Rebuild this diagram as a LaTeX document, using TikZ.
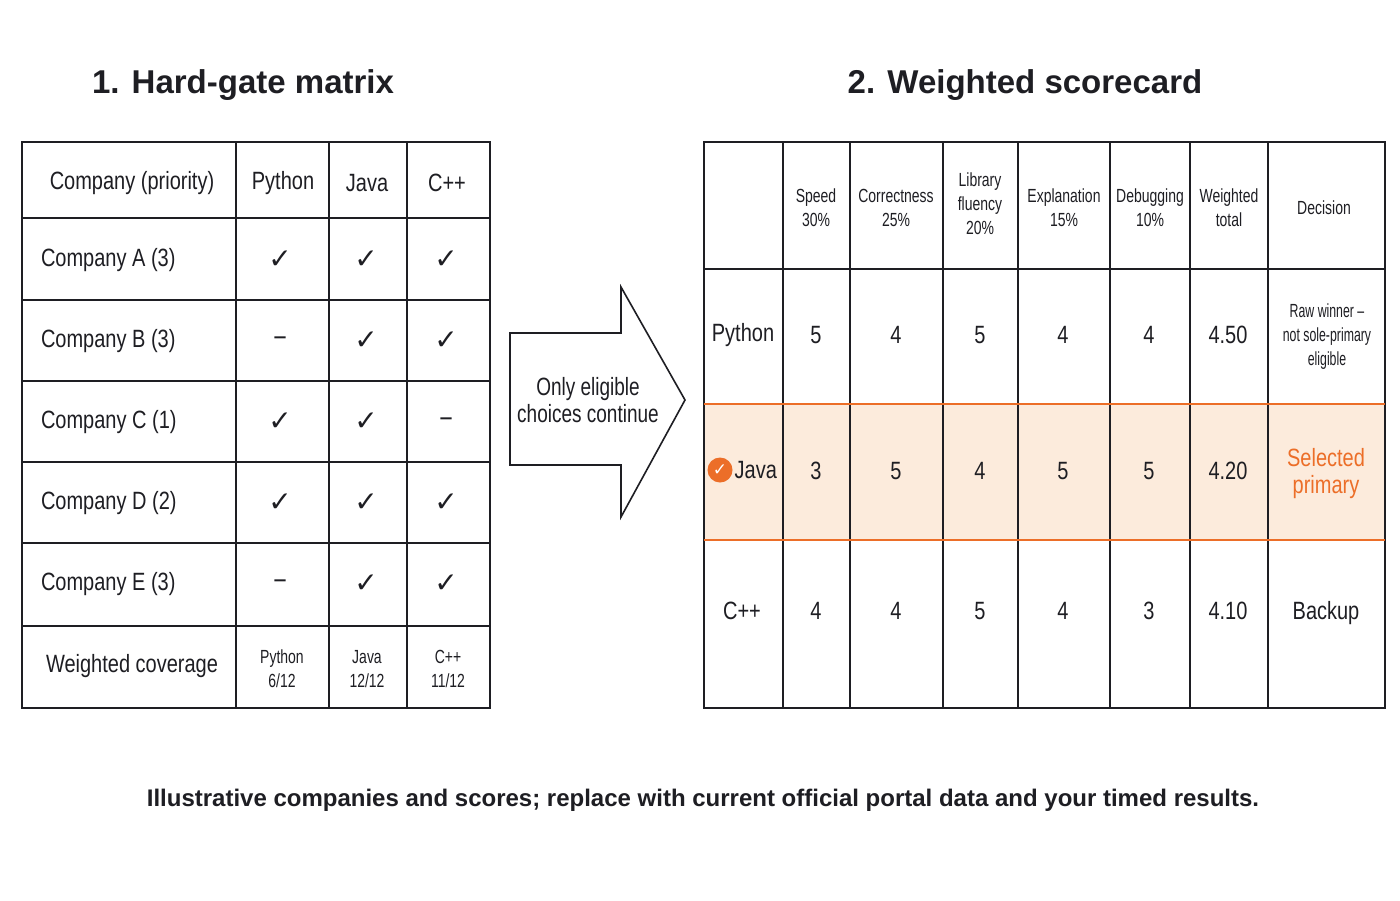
\documentclass[tikz,border=0pt]{standalone}
\usepackage{fontspec}
\setmainfont{Liberation Sans}
\newfontfamily\symfont{DejaVu Sans}
\usetikzlibrary{positioning}
\definecolor{lineColor}{RGB}{30,30,35}
\definecolor{accentColor}{RGB}{236,110,40}
\definecolor{rowColor}{RGB}{252,235,220}
\tikzset{
  grid/.style={draw=lineColor,line width=1.6pt},
  cell/.style={text=lineColor,inner sep=0pt,outer sep=0pt,align=center,font=\fontsize{25}{27}\selectfont,xscale=0.8},
  small/.style={cell,font=\fontsize{19}{24}\selectfont,xscale=0.92},
  chk/.style={text=lineColor,inner sep=0pt,font=\symfont\fontsize{28}{28}\selectfont},
  title/.style={text=lineColor,font=\bfseries\fontsize{33}{36}\selectfont,inner sep=0pt}
}
\begin{document}
\begin{tikzpicture}[x=1pt,y=1pt]
\path[use as bounding box,fill=white] (0,0) rectangle (1400,-900);

% titles
\node[title] (t1) at (243,-85) {1. Hard-gate matrix};
\node[title] (t2) at (1025,-85) {2. Weighted scorecard};

% left grid
\draw[grid] (22,-142) rectangle (490,-708);
\foreach \x in {236,329,407} \draw[grid] (\x,-142) -- (\x,-708);
\foreach \y in {218,300,381,462,543,626} \draw[grid] (22,-\y) -- (490,-\y);

\node[cell] (h0) at (132,-183) {Company (priority)};
\node[cell] (h1) at (283,-183) {Python};
\node[cell] (h2) at (367,-183) {Java};
\node[cell] (h3) at (447,-183) {C++};

\foreach \n/\p/\y/\a/\b/\c in {A/3/260/\char"2713/\char"2713/\char"2713,
    B/3/341/–/\char"2713/\char"2713,
    C/1/422/\char"2713/\char"2713/–,
    D/2/503/\char"2713/\char"2713/\char"2713,
    E/3/584/–/\char"2713/\char"2713}{
  \node[cell,anchor=west] (c\n) at (41,-\y) {Company \n\ (\p)};
  \node[chk] (p\n) at (280,-\y) {\a};
  \node[chk] (j\n) at (366,-\y) {\b};
  \node[chk] (k\n) at (446,-\y) {\c};
}
\node[cell] (wc) at (132,-666) {Weighted coverage};
\node[small] (w1) at (282,-669) {Python\\6/12};
\node[small] (w2) at (367,-669) {Java\\12/12};
\node[small] (w3) at (448,-669) {C++\\11/12};

% arrow
\draw[grid,fill=white,line join=miter] (510,-333) -- (621,-333) -- (621,-287) -- (685,-400)
  -- (621,-517) -- (621,-465) -- (510,-465) -- cycle;
\node[cell,xscale=0.95] (ar) at (588,-400) {Only eligible\\choices continue};

% right grid
\fill[rowColor] (704,-404) rectangle (1385,-540);
\draw[grid] (704,-142) rectangle (1385,-708);
\foreach \x in {783,850,943,1018,1110,1190,1268} \draw[grid] (\x,-142) -- (\x,-708);
\draw[grid] (704,-269) -- (1385,-269);
\draw[accentColor,line width=1.6pt] (704,-404) -- (1385,-404) (704,-540) -- (1385,-540);

\node[small] (s1) at (816,-208) {Speed\\30\%};
\node[small] (s2) at (896,-208) {Correctness\\25\%};
\node[small] (s3) at (980,-204) {Library\\fluency\\20\%};
\node[small] (s4) at (1064,-208) {Explanation\\15\%};
\node[small] (s5) at (1150,-208) {Debugging\\10\%};
\node[small] (s6) at (1229,-208) {Weighted\\total};
\node[small] (s7) at (1324,-208) {Decision};

\foreach \r/\y/\a/\b/\c/\d/\e/\t in {py/335/5/4/5/4/4/4.50, ja/471/3/5/4/5/5/4.20, cp/611/4/4/5/4/3/4.10}{
  \node[cell] (\r1) at (816,-\y) {\a};
  \node[cell] (\r2) at (896,-\y) {\b};
  \node[cell] (\r3) at (980,-\y) {\c};
  \node[cell] (\r4) at (1063,-\y) {\d};
  \node[cell] (\r5) at (1149,-\y) {\e};
  \node[cell] (\r6) at (1228,-\y) {\t};
}
\node[cell] (pyn) at (743,-335) {Python};
\node[circle,fill=accentColor,minimum size=25pt,inner sep=0pt,text=white,font=\symfont\bfseries\fontsize{17}{17}\selectfont] (jc) at (720,-470) {\char"2713};
\node[cell,right=2pt of jc] (jan) {Java};
\node[cell] (cpn) at (742,-611) {C++};

\node[small,xscale=0.88] (pyd) at (1327,-337) {Raw winner –\\not sole-primary\\eligible};
\node[cell,text=accentColor] (jad) at (1326,-474) {Selected\\primary};
\node[cell] (cpd) at (1326,-613) {Backup};

% footer
\node[text=lineColor,inner sep=0pt,font=\bfseries\fontsize{24}{26}\selectfont,xscale=1.0] (ft) at (703,-800)
  {Illustrative companies and scores; replace with current official portal data and your timed results.};
\end{tikzpicture}
\end{document}
